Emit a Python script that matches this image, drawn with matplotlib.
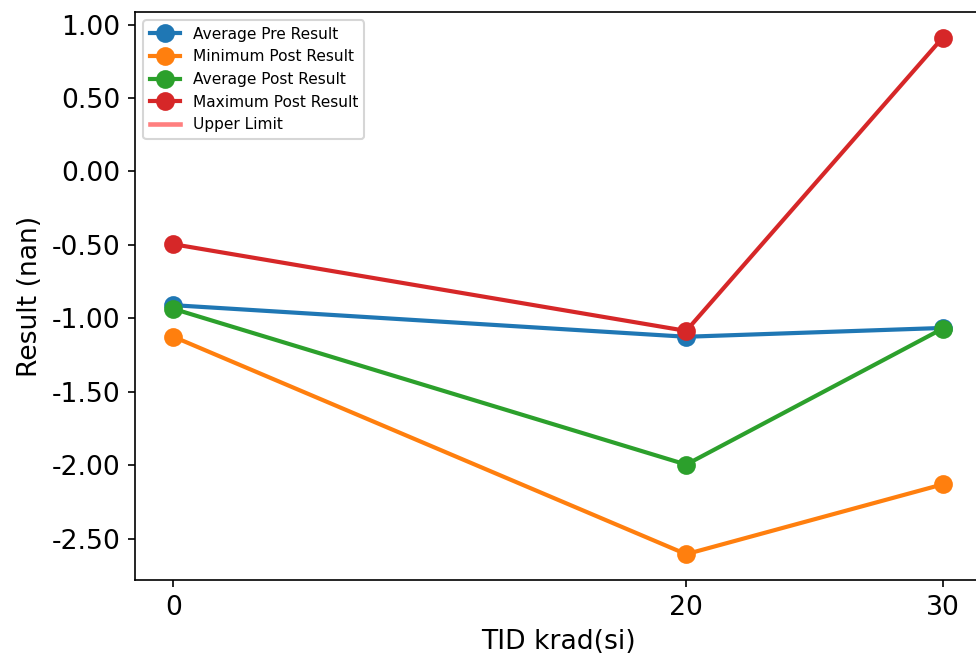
import numpy as np
import matplotlib
matplotlib.use('Agg')
import matplotlib.pyplot as plt
from matplotlib.ticker import FormatStrFormatter, MultipleLocator

plt.rcParams.update({'font.size': 12.8, 'font.family': 'DejaVu Sans'})

# TID doses (krad(si))
tid = [0, 20, 30]

# results
avg_pre = [-0.91, -1.125, -1.065]
min_post = [-1.125, -2.605, -2.13]
avg_post = [-0.935, -1.995, -1.07]
max_post = [-0.495, -1.085, 0.91]
upper_limit = [np.nan, np.nan, np.nan]

series = [
    ('Average Pre Result', avg_pre, 'tab:blue'),
    ('Minimum Post Result', min_post, 'tab:orange'),
    ('Average Post Result', avg_post, 'tab:green'),
    ('Maximum Post Result', max_post, 'tab:red'),
]

fig = plt.figure(figsize=(976 / 150, 659 / 150), dpi=150)
# axes runs slightly past the right edge, like the cropped original
ax = fig.add_axes([135 / 976, 79 / 659, 846 / 976, 568 / 659])

for label, vals, col in series:
    ax.plot(tid, vals, marker='o', color=col, linewidth=2, markersize=8, label=label)
ax.plot(tid, upper_limit, color='red', alpha=0.5, linewidth=2.2, label='Upper Limit')

ax.set_xticks(tid)
ax.yaxis.set_major_locator(MultipleLocator(0.5))
ax.yaxis.set_major_formatter(FormatStrFormatter('%.2f'))
ax.set_xlabel('TID krad(si)')
ax.set_ylabel('Result (nan)')
ax.legend(loc='upper left', fontsize=7.4, borderaxespad=0.55)

fig.savefig('out.png', dpi=150)
